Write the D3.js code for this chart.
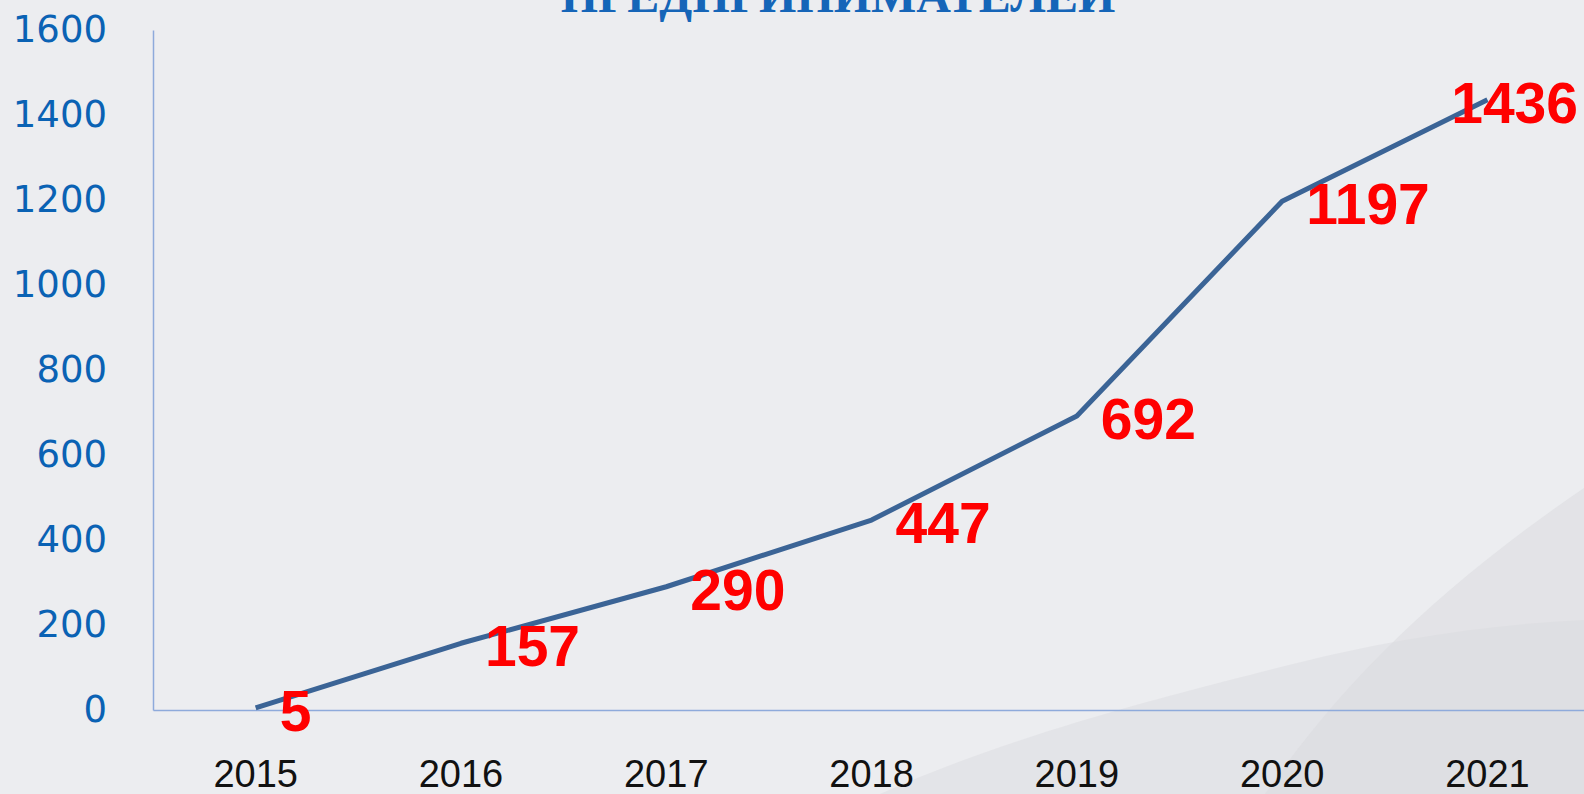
<!DOCTYPE html>
<html>
<head>
<meta charset="utf-8">
<script src="https://cdn.jsdelivr.net/npm/d3@7"></script>
<style>
  body { margin: 0; background: #ecedf0; overflow: hidden; }
  svg { display: block; }
</style>
</head>
<body>
<svg id="chart"></svg>
<script>
// data
var years = ["2015", "2016", "2017", "2018", "2019", "2020", "2021"];
var counts = [5, 157, 290, 447, 692, 1197, 1436];
var yTicks = [0, 200, 400, 600, 800, 1000, 1200, 1400, 1600];
var title = "ПРЕДПРИНИМАТЕЛЕЙ";

var width = 1584,
    height = 794;

var svg = d3.select("#chart")
    .attr("width", width)
    .attr("height", height);

// background + the grey swooshes in the corner
svg.append("rect")
    .attr("width", width).attr("height", height)
    .attr("fill", "#ecedf0");

svg.append("path")
    .attr("d", "M880,794 C1000,740 1150,700 1250,675 C1380,640 1480,625 1584,620 L1584,794 Z")
    .attr("fill", "#d9dade")
    .attr("opacity", 0.45);
svg.append("path")
    .attr("d", "M1265,794 C1330,700 1420,600 1584,488 L1584,794 Z")
    .attr("fill", "#d9dade")
    .attr("opacity", 0.5);

var margin = {left: 153, top: 30, bottom: 710};

var x = d3.scaleBand()
    .domain(years)
    .range([margin.left, margin.left + 7 * 205.3]);

var y = d3.scaleLinear()
    .domain([0, 1600])
    .range([margin.bottom, margin.top]);

// title (cut off at the top, as in the slide)
svg.append("text")
    .attr("x", 838)
    .attr("y", 12)
    .attr("text-anchor", "middle")
    .attr("font-family", "Liberation Serif")
    .attr("font-weight", "bold")
    .attr("font-size", 48)
    .attr("fill", "#1565b8")
    .text(title);

// y axis
var yAxis = svg.append("g")
    .attr("transform", "translate(" + margin.left + ",0)")
    .call(d3.axisLeft(y).tickValues(yTicks).tickFormat(d3.format("d")).tickSize(0).tickPadding(46));
yAxis.select(".domain").attr("stroke", "#8eaadb").attr("stroke-width", 1.5);
yAxis.selectAll("text")
    .attr("font-family", "DejaVu Sans")
    .attr("font-size", 37)
    .attr("fill", "#0a62b4");

// x axis
var xAxis = svg.append("g")
    .attr("transform", "translate(0," + margin.bottom + ")")
    .call(d3.axisBottom(x).tickSize(0).tickPadding(50));
xAxis.select(".domain").attr("stroke", "#8eaadb").attr("stroke-width", 1.5);
xAxis.selectAll("text")
    .attr("font-family", "Liberation Sans")
    .attr("font-size", 38)
    .attr("fill", "#111");

var cx = function(d, i) { return x(years[i]) + x.bandwidth() / 2; };

var line = d3.line()
    .x(cx)
    .y(function(d) { return y(d); });

svg.append("path")
    .datum(counts)
    .attr("d", line)
    .attr("fill", "none")
    .attr("stroke", "#3b6496")
    .attr("stroke-width", 5)
    .attr("stroke-linejoin", "round");

// value labels
svg.selectAll(".lbl")
    .data(counts)
  .enter().append("text")
    .attr("class", "lbl")
    .attr("x", function(d, i) { return cx(d, i) + 24; })
    .attr("y", function(d) { return y(d) + 23; })
    .attr("font-family", "Liberation Sans")
    .attr("font-weight", "bold")
    .attr("font-size", 57)
    .attr("fill", "#ff0000")
    .text(function(d) { return d; })
    .each(function() {
      // keep the last one inside the page
      var b = this.getBBox();
      if (b.x + b.width > width - 6) d3.select(this).attr("x", width - 6 - b.width);
    });
</script>
</body>
</html>
